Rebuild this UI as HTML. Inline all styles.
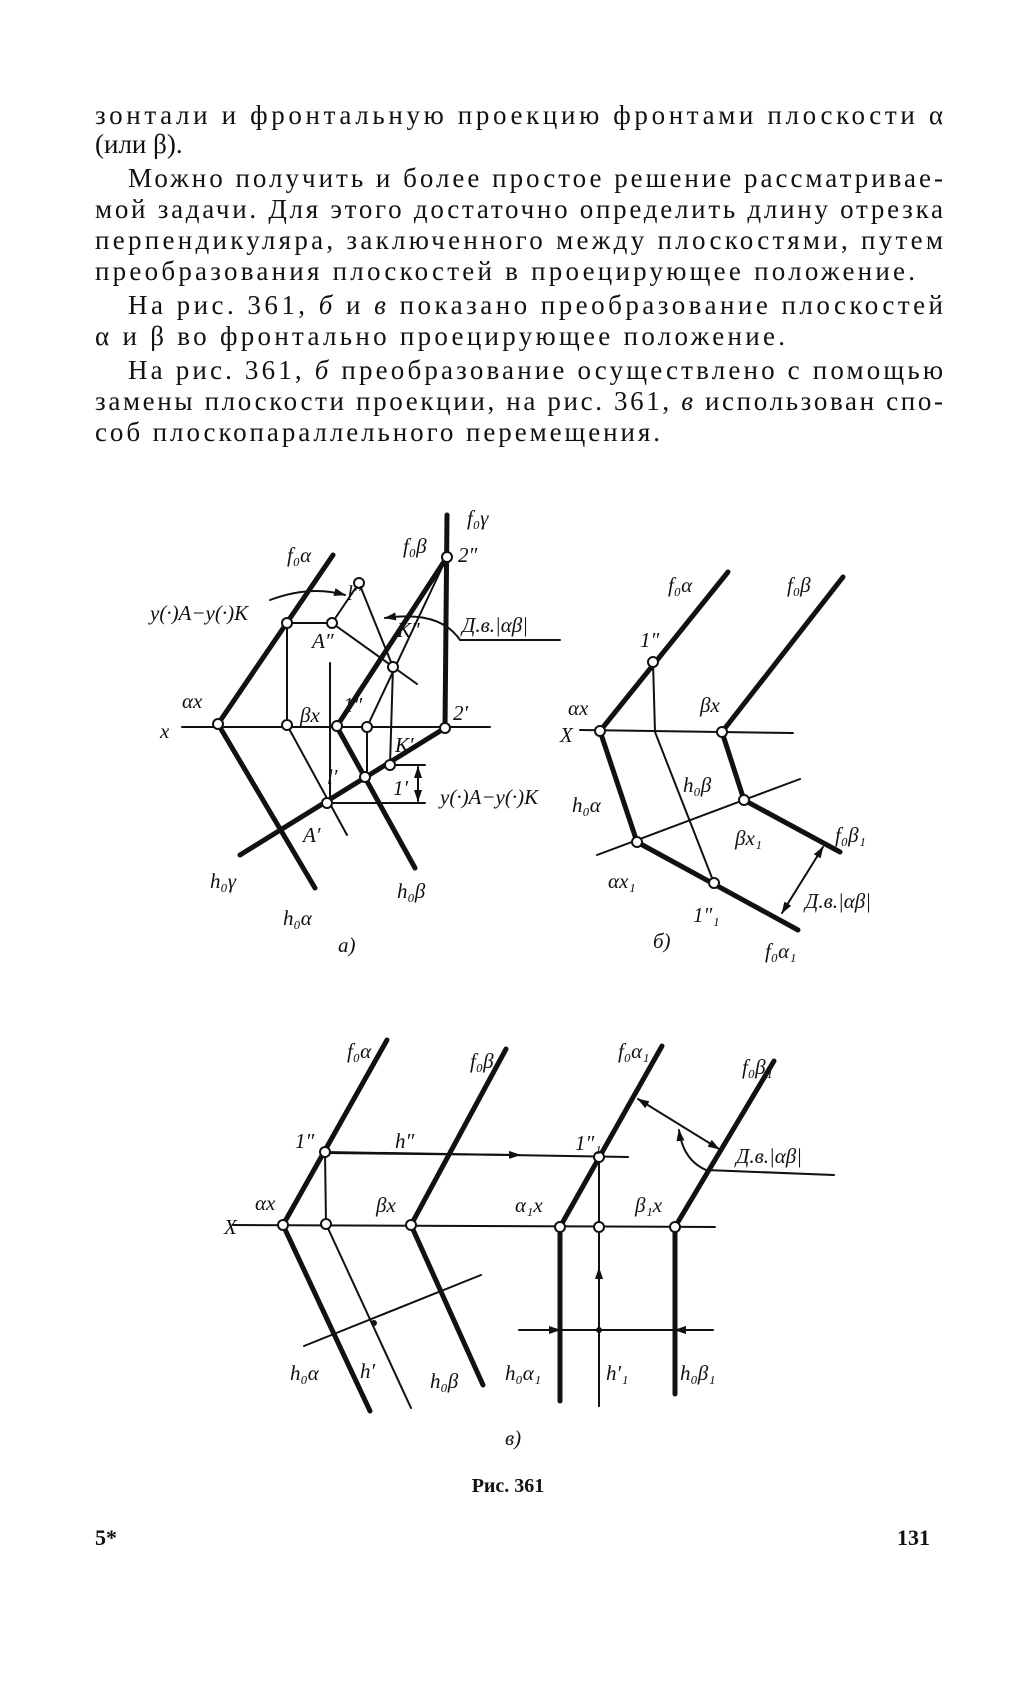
<!DOCTYPE html>
<html><head><meta charset="utf-8"><style>
html,body{margin:0;padding:0;background:#fff}
svg{display:block}
text{font-family:"Liberation Serif",serif;fill:#111}
.t{font-size:27px}
.l{font-family:"Liberation Sans",sans-serif;font-style:italic;font-size:21px}
</style></head><body>
<svg width="1022" height="1684" viewBox="0 0 1022 1684" xmlns="http://www.w3.org/2000/svg">
<defs><marker id="ar" markerWidth="12" markerHeight="8" refX="11" refY="4" orient="auto-start-reverse" markerUnits="userSpaceOnUse"><path d="M0,0 L12,4 L0,8 Z" fill="#111"/></marker></defs>
<g class="t">
<text x="95" y="124" textLength="848" lengthAdjust="spacing">зонтали и фронтальную проекцию фронтами плоскости α</text>
<text x="95" y="153">(или β).</text>
<text x="128" y="187" textLength="815" lengthAdjust="spacing">Можно получить и более простое решение рассматривае-</text>
<text x="95" y="218" textLength="848" lengthAdjust="spacing">мой задачи. Для этого достаточно определить длину отрезка</text>
<text x="95" y="249" textLength="848" lengthAdjust="spacing">перпендикуляра, заключенного между плоскостями, путем</text>
<text x="95" y="280" textLength="820" lengthAdjust="spacing">преобразования плоскостей в проецирующее положение.</text>
<text x="128" y="314" textLength="815" lengthAdjust="spacing">На рис. 361, <tspan font-style="italic">б</tspan> и <tspan font-style="italic">в</tspan> показано преобразование плоскостей</text>
<text x="95" y="345" textLength="690" lengthAdjust="spacing">α и β во фронтально проецирующее положение.</text>
<text x="128" y="379" textLength="815" lengthAdjust="spacing">На рис. 361, <tspan font-style="italic">б</tspan> преобразование осуществлено с помощью</text>
<text x="95" y="410" textLength="848" lengthAdjust="spacing">замены плоскости проекции, на рис. 361, <tspan font-style="italic">в</tspan> использован спо-</text>
<text x="95" y="441" textLength="565" lengthAdjust="spacing">соб плоскопараллельного перемещения.</text>
</g>
<g stroke="#111" fill="none" stroke-linecap="round">
<g stroke-width="2"><line x1="182" y1="727" x2="490" y2="727"/>
<line x1="287" y1="623" x2="287" y2="725"/><line x1="287" y1="725" x2="347" y2="835"/>
<line x1="287" y1="623" x2="332" y2="623"/><line x1="332" y1="623" x2="359" y2="583"/>
<line x1="359" y1="583" x2="393" y2="667"/><line x1="332" y1="623" x2="417" y2="684"/>
<line x1="367" y1="727" x2="447" y2="557"/><line x1="367" y1="727" x2="367" y2="777"/>
<line x1="393" y1="667" x2="390" y2="765"/><line x1="330" y1="663" x2="330" y2="800"/>
<line x1="330" y1="803" x2="425" y2="803"/><line x1="390" y1="765" x2="425" y2="765"/>
<line x1="418" y1="767" x2="418" y2="801" marker-start="url(#ar)" marker-end="url(#ar)"/>
<path d="M270,600 Q310,585 345,595" marker-end="url(#ar)"/>
<path d="M560,640 L460,640 Q440,610 385,618" marker-end="url(#ar)"/></g>
<g stroke-width="5"><line x1="218" y1="724" x2="333" y2="555"/><line x1="218" y1="724" x2="315" y2="888"/>
<line x1="337" y1="726" x2="447" y2="557"/><line x1="447" y1="515" x2="445" y2="728"/>
<line x1="337" y1="727" x2="415" y2="868"/><line x1="240" y1="855" x2="445" y2="728"/></g>
<g stroke-width="2"><line x1="580" y1="730" x2="793" y2="733"/>
<line x1="653" y1="662" x2="655" y2="732"/><line x1="655" y1="732" x2="714" y2="883"/>
<line x1="597" y1="855" x2="800" y2="779"/>
<line x1="823" y1="847" x2="782" y2="913" marker-start="url(#ar)" marker-end="url(#ar)"/></g>
<g stroke-width="5"><line x1="600" y1="731" x2="728" y2="572"/><line x1="722" y1="732" x2="843" y2="577"/>
<line x1="600" y1="731" x2="637" y2="842"/><line x1="637" y1="842" x2="798" y2="930"/>
<line x1="722" y1="732" x2="744" y2="800"/><line x1="744" y1="800" x2="840" y2="852"/></g>
<g stroke-width="2"><line x1="233" y1="1225" x2="715" y2="1227"/>
<line x1="325" y1="1152" x2="326" y2="1224"/><line x1="326" y1="1224" x2="411" y2="1408"/>
<line x1="325" y1="1152" x2="628" y2="1157"/><line x1="325" y1="1153" x2="520" y2="1155" marker-end="url(#ar)"/>
<line x1="599" y1="1406" x2="599" y2="1157"/><line x1="599" y1="1406" x2="599" y2="1268" marker-end="url(#ar)"/>
<line x1="519" y1="1330" x2="560" y2="1330" marker-end="url(#ar)"/><line x1="560" y1="1330" x2="675" y2="1330"/><line x1="713" y1="1330" x2="675" y2="1330" marker-end="url(#ar)"/>
<line x1="304" y1="1346" x2="481" y2="1275"/>
<line x1="638" y1="1099" x2="719" y2="1149" marker-start="url(#ar)" marker-end="url(#ar)"/>
<path d="M706,1170 Q683,1160 679,1130" marker-end="url(#ar)"/><line x1="706" y1="1170" x2="834" y2="1175"/></g>
<g stroke-width="5"><line x1="283" y1="1225" x2="387" y2="1040"/><line x1="283" y1="1225" x2="370" y2="1411"/>
<line x1="411" y1="1225" x2="506" y2="1049"/><line x1="411" y1="1225" x2="483" y2="1385"/>
<line x1="560" y1="1227" x2="662" y2="1046"/><line x1="560" y1="1227" x2="560" y2="1401"/>
<line x1="675" y1="1227" x2="774" y2="1061"/><line x1="675" y1="1227" x2="675" y2="1394"/></g>
</g>
<g fill="#fff" stroke="#111" stroke-width="2">
<circle cx="218" cy="724" r="5"/><circle cx="287" cy="623" r="5"/><circle cx="287" cy="725" r="5"/><circle cx="332" cy="623" r="5"/><circle cx="359" cy="583" r="5"/><circle cx="393" cy="667" r="5"/><circle cx="337" cy="726" r="5"/><circle cx="367" cy="727" r="5"/><circle cx="447" cy="557" r="5"/><circle cx="445" cy="728" r="5"/><circle cx="390" cy="765" r="5"/><circle cx="365" cy="777" r="5"/><circle cx="327" cy="803" r="5"/>
<circle cx="600" cy="731" r="5"/><circle cx="653" cy="662" r="5"/><circle cx="722" cy="732" r="5"/><circle cx="637" cy="842" r="5"/><circle cx="744" cy="800" r="5"/><circle cx="714" cy="883" r="5"/>
<circle cx="283" cy="1225" r="5"/><circle cx="325" cy="1152" r="5"/><circle cx="326" cy="1224" r="5"/><circle cx="411" cy="1225" r="5"/><circle cx="599" cy="1157" r="5"/><circle cx="560" cy="1227" r="5"/><circle cx="599" cy="1227" r="5"/><circle cx="675" cy="1227" r="5"/>
</g>
<g fill="#111"><circle cx="599" cy="1330" r="3"/><circle cx="374" cy="1323" r="3"/></g>
<g class="l">
<text x="287" y="562">f₀α</text><text x="403" y="553">f₀β</text><text x="467" y="525">f₀γ</text><text x="458" y="562">2″</text>
<text x="150" y="620">y(·)A−y(·)K</text><text x="347" y="600">l″</text><text x="312" y="648">A″</text><text x="397" y="637">K″</text>
<text x="462" y="632">Д.в.|αβ|</text><text x="182" y="708">αx</text><text x="160" y="738">x</text><text x="300" y="722">βx</text>
<text x="343" y="712">1″</text><text x="453" y="720">2′</text><text x="395" y="752">K′</text><text x="327" y="784">l′</text>
<text x="393" y="795">1′</text><text x="440" y="804">y(·)A−y(·)K</text><text x="303" y="842">A′</text>
<text x="210" y="888">h₀γ</text><text x="283" y="925">h₀α</text><text x="397" y="898">h₀β</text><text x="338" y="952">a)</text>
<text x="668" y="592">f₀α</text><text x="787" y="592">f₀β</text><text x="640" y="647">1″</text><text x="568" y="715">αx</text><text x="560" y="742">X</text>
<text x="700" y="712">βx</text><text x="683" y="792">h₀β</text><text x="572" y="812">h₀α</text><text x="735" y="845">βx₁</text>
<text x="608" y="888">αx₁</text><text x="693" y="922">1″₁</text><text x="835" y="842">f₀β₁</text><text x="805" y="908">Д.в.|αβ|</text>
<text x="765" y="958">f₀α₁</text><text x="653" y="948">б)</text>
<text x="347" y="1058">f₀α</text><text x="470" y="1068">f₀β</text><text x="618" y="1058">f₀α₁</text><text x="742" y="1074">f₀β₁</text>
<text x="295" y="1148">1″</text><text x="395" y="1148">h″</text><text x="575" y="1150">1″₁</text><text x="736" y="1163">Д.в.|αβ|</text>
<text x="255" y="1210">αx</text><text x="224" y="1234">X</text><text x="376" y="1212">βx</text><text x="515" y="1212">α₁x</text><text x="635" y="1212">β₁x</text>
<text x="290" y="1380">h₀α</text><text x="360" y="1378">h′</text><text x="430" y="1388">h₀β</text><text x="505" y="1380">h₀α₁</text><text x="606" y="1380">h′₁</text><text x="680" y="1380">h₀β₁</text>
<text x="505" y="1445">в)</text>
</g>
<text x="508" y="1492" font-size="20" font-weight="bold" text-anchor="middle">Рис. 361</text>
<text x="95" y="1545" font-size="22" font-weight="bold">5*</text>
<text x="897" y="1545" font-size="22" font-weight="bold">131</text>
</svg>
</body></html>
